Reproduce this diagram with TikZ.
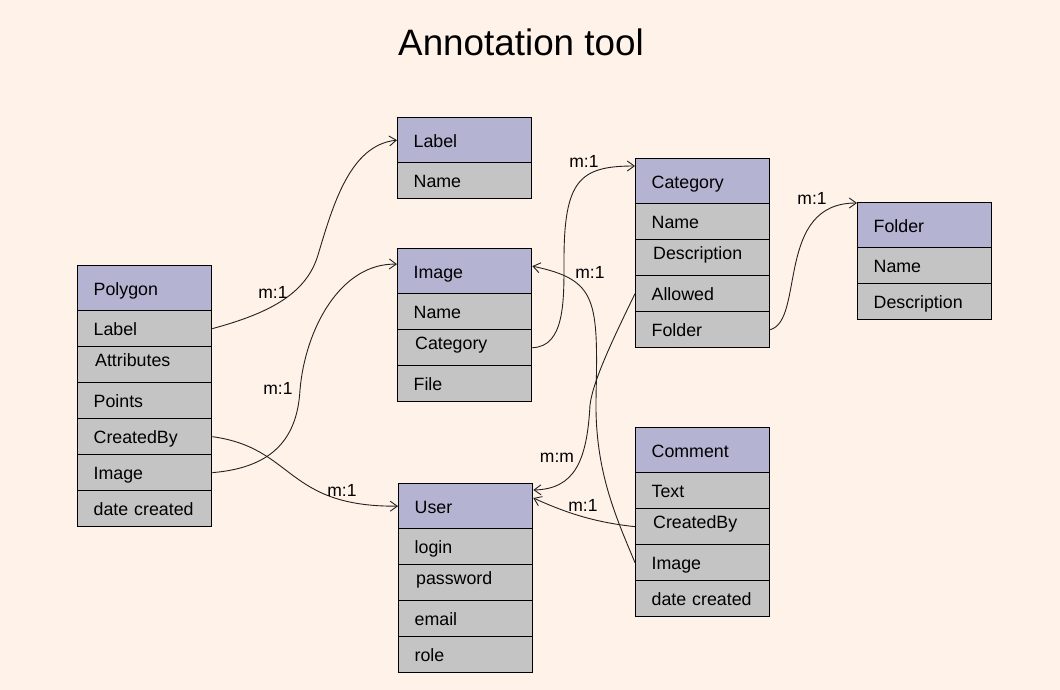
\documentclass[tikz,border=0pt]{standalone}
\usepackage{fontspec}
\setmainfont{Liberation Sans}
\usetikzlibrary{arrows.meta,calc}
\definecolor{bgc}{HTML}{FFF2E9}
\definecolor{hdrc}{HTML}{B4B4D2}
\definecolor{rowc}{HTML}{C4C4C4}
\definecolor{linec}{HTML}{222222}
\newcommand\mktab[6]{%
  \node[hdr] (#1) at (#2,#3) {#4};
  \foreach \r [count=\i] in {#5} {
    \ifnum\i=#6\relax
      \node[row,rowtwo] (#1-\i) at (#2,{#3+45+36*(\i-1)}) {\hspace*{1.5pt}\r};
    \else
      \node[row] (#1-\i) at (#2,{#3+45+36*(\i-1)}) {\r};
    \fi
  }
}
\begin{document}
\begin{tikzpicture}[x=1pt,y=-1pt,
  cell/.style={draw=black, line width=1.3pt, anchor=north west, minimum width=134pt,
    text width=102pt, inner xsep=16pt, inner ysep=0pt, align=left,
    font=\fontsize{17.8}{20}\selectfont, text height=15pt, text depth=1pt},
  hdr/.style={cell, fill=hdrc, minimum height=45pt},
  row/.style={cell, fill=rowc, minimum height=36pt},
  rowtwo/.style={text height=10pt, text depth=6pt},
  conn/.style={draw=linec, line width=0.9pt, -{Straight Barb[length=7pt,width=10pt]}},
  card/.style={font=\fontsize{17.5}{20}\selectfont, inner sep=0pt}
]
\useasboundingbox (0,0) rectangle (1060,690);
\fill[bgc] (0,0) rectangle (1060,690);

\node[font=\fontsize{36.8}{40}\selectfont] (title) at (521,42) {Annotation tool};

\mktab{poly}{77}{265}{Polygon}{Label,Attributes,Points,CreatedBy,Image,date created}{2}
\mktab{lab}{397}{117}{Label}{Name}{0}
\mktab{img}{397}{248}{Image}{Name,Category,File}{2}
\mktab{cat}{635}{158}{Category}{Name,Description,Allowed,Folder}{2}
\mktab{fold}{857}{202}{Folder}{Name,Description}{0}
\mktab{usr}{398}{483}{User}{login,password,email,role}{2}
\mktab{com}{635}{427}{Comment}{Text,CreatedBy,Image,date created}{2}

% connectors
\draw[conn] (poly-1.east) .. controls +(55,-15) and (306,295) .. (318,255)
  .. controls (333,205) and (350,145) .. (lab.west);
\draw[conn] (poly-5.east) .. controls (268,468) and (297,443) .. (300,390)
  .. controls (305,330) and (340,263) .. ($(img.west)+(0,-7)$);
\draw[conn] (poly-4.east) .. controls (295,448) and (285,507) .. (usr.west);
\draw[conn] (img-2.east) .. controls (565,347) and (564,300) .. (564,260)
  .. controls (564,180) and (580,166) .. ($(cat.north west)+(0,8)$);
\draw[conn] (cat-3.west) .. controls (615,335) and (593,380) .. (590,405)
  .. controls (587,462) and (574,489) .. ($(usr.north east)+(0,7)$);
\draw[conn] (com-3.west) .. controls (615,515) and (595,470) .. (596,400)
  .. controls (598,300) and (598,280) .. ($(img.east)+(0,-5)$);
\draw[conn] (com-2.west) .. controls (590,522) and (560,510) .. ($(usr.north east)+(0,15)$);
\draw[conn] (cat-4.east) .. controls (805,320) and (775,203) .. ($(fold.north west)+(0,1)$);

% cardinality labels
\node[card] (c1) at (273,292) {m:1};
\node[card] (c2) at (278,388) {m:1};
\node[card] (c3) at (342,490) {m:1};
\node[card] (c4) at (584,161) {m:1};
\node[card] (c5) at (557,458) {m:m};
\node[card] (c6) at (590,272) {m:1};
\node[card] (c7) at (583,505) {m:1};
\node[card] (c8) at (812,198) {m:1};
\end{tikzpicture}
\end{document}
